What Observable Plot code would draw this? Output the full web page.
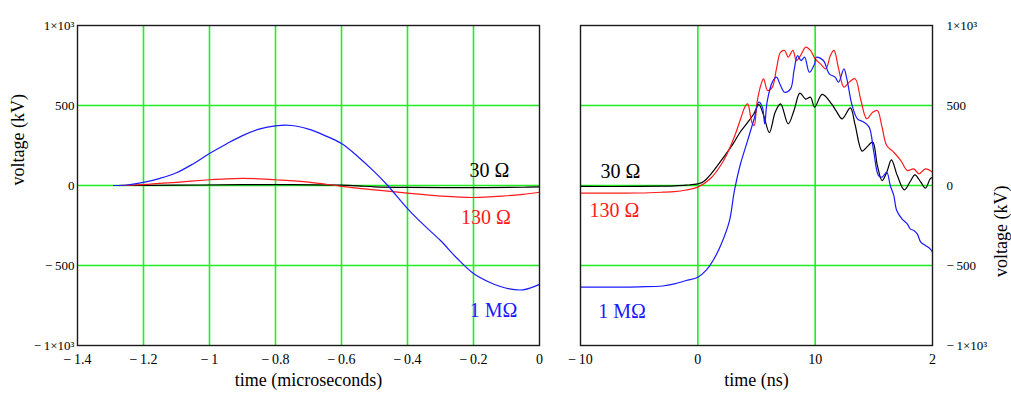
<!DOCTYPE html>
<html><head><meta charset="utf-8">
<script src="https://cdn.jsdelivr.net/npm/d3@7"></script>
<script src="https://cdn.jsdelivr.net/npm/@observablehq/plot@0.6"></script>
<style>
body{margin:0;background:#fff;}
#wrap{position:relative;width:1011px;height:396px;overflow:hidden;font-family:"Liberation Serif","Times New Roman",serif;}
#wrap svg{position:absolute;top:0;}
</style></head><body><div id="wrap"></div>
<script>
// ---------- data ----------
const yTicks = [-1000, -500, 0, 500, 1000];
const yTickLabels = ["\u2212\u20091\u00d710\u00b3", "\u2212\u2009500", "0", "500", "1\u00d710\u00b3"];
const yGrid = [-500, 0, 500];

const leftXTicks = [-1.4, -1.2, -1.0, -0.8, -0.6, -0.4, -0.2, 0];
const leftXTickLabels = ["\u2212\u20091.4", "\u2212\u20091.2", "\u2212\u20091", "\u2212\u20090.8", "\u2212\u20090.6", "\u2212\u20090.4", "\u2212\u20090.2", "0"];
const leftXGrid = [-1.2, -1.0, -0.8, -0.6, -0.4, -0.2];

const rightXTicks = [-10, 0, 10, 20];
const rightXTickLabels = ["\u2212\u200910", "0", "10", "2"];
const rightXGrid = [0, 10];

// left panel: time (microseconds) vs voltage (kV)
const left30 = [[-1.29,0],[-1.1,2],[-0.9,5],[-0.75,5],[-0.6,2],[-0.55,-2],[-0.5,-8],[-0.4,-12],[-0.2,-13],[-0.05,-11],[0,-9]];
const left130 = [[-1.29,0],[-1.25,1],[-1.2,5],[-1.1,20],[-1.0,36],[-0.95,42],[-0.9,44],[-0.85,42],[-0.8,36],[-0.7,21],[-0.6,-5],[-0.5,-27],[-0.4,-48],[-0.3,-66],[-0.2,-75],[-0.1,-64],[-0.05,-55],[0,-42]];
const left1M = [[-1.29,0],[-1.25,3],[-1.2,19],[-1.15,45],[-1.1,80],[-1.05,135],[-1.0,200],[-0.95,258],[-0.9,312],[-0.85,352],[-0.8,373],[-0.75,375],[-0.7,352],[-0.65,312],[-0.6,262],[-0.55,180],[-0.5,85],[-0.46,0],[-0.4,-144],[-0.35,-248],[-0.3,-344],[-0.25,-455],[-0.2,-550],[-0.15,-606],[-0.1,-642],[-0.05,-652],[0,-618]];

// right panel: time (ns) vs voltage (kV)
const right30 = [[-10,-6],[-5,-6],[-3,-4],[-2,-2],[-1,2],[0,10],[0.5,25],[1.1,70],[2.2,177],[3,260],[3.6,333],[4.2,390],[4.75,445],[5.2,505],[5.6,440],[6.1,331],[6.6,460],[7.05,510],[7.7,385],[8.2,470],[8.7,577],[9.2,540],[9.6,552],[9.95,490],[10.6,569],[11.4,510],[11.8,465],[12.3,417],[13,485],[13.4,380],[14,215],[14.4,240],[14.9,271],[15.3,125],[15.7,31],[16.1,83],[16.5,160],[17,62],[17.6,-27],[18.1,25],[18.5,67],[19,21],[19.4,-17],[19.8,42],[20,52]];
const right130 = [[-10,-48],[-5,-47],[-3,-42],[-2,-38],[-1,-28],[0,-10],[1.1,45],[2.2,156],[3.1,302],[3.6,406],[4.07,500],[4.25,510],[4.6,396],[4.8,375],[5.05,521],[5.4,635],[5.6,667],[5.95,594],[6.35,615],[6.7,729],[7.05,833],[7.4,844],[7.7,802],[8.1,844],[8.4,781],[8.75,812],[9.2,865],[9.6,844],[10,792],[10.45,760],[10.9,729],[11.3,812],[11.6,844],[12,729],[12.45,615],[12.9,646],[13.4,667],[13.9,531],[14.4,417],[14.9,458],[15.3,469],[15.7,365],[16.1,250],[16.7,208],[17.3,156],[17.85,94],[18.4,104],[18.85,73],[19.4,104],[20,83]];
const right1M = [[-10,-635],[-5,-633],[-3,-628],[-2,-615],[-1,-594],[0,-573],[0.7,-531],[1.3,-469],[2,-365],[2.7,-219],[3.1,-40],[3.6,125],[4.2,271],[4.8,417],[5.2,521],[5.5,490],[5.7,385],[5.9,521],[6.35,646],[6.7,677],[7.05,625],[7.4,583],[7.9,604],[8.2,719],[8.5,812],[8.8,781],[9.1,802],[9.5,708],[9.95,760],[10.1,802],[10.7,781],[11.2,698],[11.7,677],[12,646],[12.45,729],[12.7,667],[13.15,500],[13.6,417],[14.15,396],[14.6,365],[15,208],[15.4,62],[15.7,52],[16.1,83],[16.4,0],[16.7,-62],[16.95,-156],[17.4,-208],[17.85,-240],[18.1,-271],[18.4,-281],[18.7,-302],[19,-354],[19.4,-375],[19.8,-396],[20,-417]];

const seriesNames = ["30 \u03a9", "130 \u03a9", "1 M\u03a9"];
const seriesColors = ["#000000", "#ff1a1a", "#1a1aff"];
const leftLabelX = [-0.152, -0.162, -0.139];
const leftLabelY = [94, -200, -781];
const rightLabelX = [-6.59, -7.1, -6.46];
const rightLabelY = [89, -156, -786];

const yLabel = "voltage (kV)";
const leftXLabel = "time (microseconds)";
const rightXLabel = "time (ns)";

// ---------- drawing ----------
const GREEN = "#1ef01e";
const FONT = "Liberation Serif, Times New Roman, serif";
const fmt = (ticks, labels) => d => labels[ticks.indexOf(d)];

function panel({width, marginLeft, marginRight, xDomain, xTicks, xTickLabels, xGrid, series, labelX, labelY, xLabel, yAnchor, yPad, yLabelDx, yLabelAnchor}) {
  const labels = seriesNames.map((t, i) => ({text: t, x: labelX[i], y: labelY[i], c: seriesColors[i]}));
  const svg = Plot.plot({
    width, height: 396, marginLeft, marginRight, marginTop: 25, marginBottom: 51,
    x: {domain: xDomain},
    y: {domain: [-1000, 1000]},
    style: {fontFamily: FONT, fontSize: "14px", background: "transparent", overflow: "visible", color: "#000"},
    marks: [
      Plot.ruleX(xGrid, {stroke: GREEN, strokeOpacity: 1, strokeWidth: 1.6}),
      Plot.ruleY(yGrid, {stroke: GREEN, strokeOpacity: 1, strokeWidth: 1.6}),
      ...series.map((s, i) => Plot.line(s, {x: d => d[0], y: d => d[1], stroke: seriesColors[i], strokeWidth: 1.2, curve: "catmull-rom"})),
      Plot.frame({stroke: "#1a1a1a", strokeWidth: 1.4}),
      Plot.axisX({ticks: xTicks, tickSize: 0, tickPadding: 9, tickFormat: fmt(xTicks, xTickLabels), label: null}),
      Plot.axisY({anchor: yAnchor, ticks: yTicks, tickSize: 0, tickPadding: yPad, tickFormat: fmt(yTicks, yTickLabels), label: null, textAnchor: yAnchor === "right" ? "start" : "end"}),
      Plot.text(labels, {x: "x", y: "y", text: "text", fill: "c", fontSize: 20}),
      Plot.text([xLabel], {text: d => d, frameAnchor: "bottom", dy: 40, fontSize: 18, fill: "#000"}),
      Plot.text([yLabel], {text: d => d, frameAnchor: yLabelAnchor, dx: yLabelDx, rotate: -90, fontSize: 18, fill: "#000"})
    ]
  });
  svg.querySelectorAll('[aria-label="y-axis tick label"]').forEach(g => g.setAttribute("font-size", "13"));
  svg.querySelectorAll('[aria-label="y-axis tick label"] text').forEach(t => t.setAttribute("font-size", "13"));
  return svg;
}

const wrap = document.getElementById("wrap");
const leftSvg = panel({
  width: 560, marginLeft: 77, marginRight: 21, xDomain: [-1.4, 0],
  xTicks: leftXTicks, xTickLabels: leftXTickLabels, xGrid: leftXGrid,
  series: [left30, left130, left1M], labelX: leftLabelX, labelY: leftLabelY,
  xLabel: leftXLabel, yAnchor: "left", yPad: 3, yLabelDx: -59, yLabelAnchor: "left"
});
leftSvg.style.left = "0px";
wrap.appendChild(leftSvg);

const rightSvg = panel({
  width: 451, marginLeft: 20, marginRight: 79, xDomain: [-10, 20],
  xTicks: rightXTicks, xTickLabels: rightXTickLabels, xGrid: rightXGrid,
  series: [right30, right130, right1M], labelX: rightLabelX, labelY: rightLabelY,
  xLabel: rightXLabel, yAnchor: "right", yPad: 14, yLabelDx: 69, yLabelAnchor: "right"
});
rightSvg.style.left = "560px";
wrap.appendChild(rightSvg);
</script></body></html>
